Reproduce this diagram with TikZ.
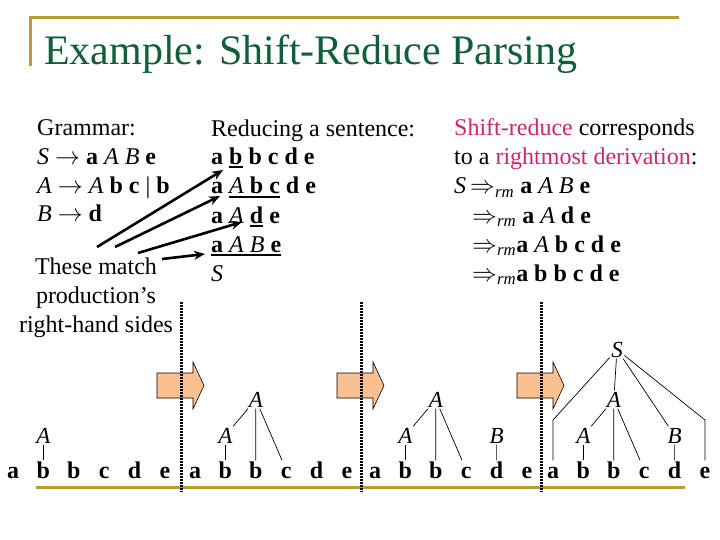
\documentclass[tikz,border=0pt]{standalone}
\usepackage{amsmath}
\usepackage{fontspec}
\setmainfont{Liberation Serif}
\usepackage{xcolor}
\usepackage{tikz}
\usetikzlibrary{arrows.meta, calc}

\definecolor{titlegreen}{RGB}{16,94,58}
\definecolor{rulegold}{RGB}{190,155,50}
\definecolor{hilite}{RGB}{204,40,110}
\definecolor{peach}{RGB}{250,192,143}

% thick bar under a handle
\newcommand{\handle}[1]{\setbox0\hbox{#1}\rlap{\rule[-3.5pt]{\wd0}{2pt}}\box0\relax}
\newcommand{\nt}[1]{\textit{#1}}
\newcommand{\tm}[1]{\textbf{#1}}

\begin{document}
\begin{tikzpicture}[x=1pt, y=-1pt,
  txt/.style={anchor=base west, inner sep=0pt, font=\fontsize{24}{29}\selectfont},
  leaf/.style={anchor=base, inner sep=1.5pt, text height=16pt, text depth=0pt, font=\fontsize{24}{29}\selectfont\bfseries},
  nterm/.style={anchor=base, inner sep=1.5pt, text height=15pt, text depth=0pt, font=\fontsize{23}{27}\selectfont\itshape},
  edge/.style={line width=0.7pt},
  hint/.style={-{Stealth[length=11pt, width=9pt]}, line width=2.6pt},
  sep/.style={line width=3pt, dash pattern=on 2pt off 1pt},
  shiftarrow/.style={draw=black, line width=0.6pt, fill=peach}]

\useasboundingbox (0,0) rectangle (720,540);

% Title and gold rule
\draw[rulegold, line width=3pt] (30,66) -- (30,18) -- (679,18);
\node[anchor=base west, inner sep=0pt, font=\fontsize{42}{50}\selectfont, text=titlegreen] (title) at (44,65) {Example: Shift-Reduce Parsing};

% Grammar column
\node[txt] (gram)  at (37,136) {Grammar:};
\node[txt] (ruleS) at (37,165) {\nt{S} $\rightarrow$ \tm{a} \nt{A} \nt{B} \tm{e}};
\node[txt] (ruleA) at (37,194) {\nt{A} $\rightarrow$ \nt{A} \tm{b c} | \tm{b}};
\node[txt] (ruleB) at (37,222) {\nt{B} $\rightarrow$ \tm{d}};
\node[anchor=north, align=center, inner sep=0pt, font=\fontsize{24}{29}\selectfont] (these) at (96,257.5) {These match\\production's\\right-hand sides};

% Reduction column
\node[txt] (redtitle) at (211,137) {Reducing a sentence:};
\node[txt] (red1) at (211,165) {\tm{a \handle{b} b c d e}};
\node[txt] (red2) at (211,194) {\tm{a} \handle{\nt{A} \tm{b c}} \tm{d e}};
\node[txt] (red3) at (211,223) {\tm{a} \nt{A} \handle{\tm{d}} \tm{e}};
\node[txt] (red4) at (211,252) {\handle{\tm{a} \nt{A} \nt{B} \tm{e}}};
\node[txt] (red5) at (211,281) {\nt{S}};

% Handles pointed at from "These match"
\coordinate (h1) at ($(red1.base west)+(12,5)$);
\coordinate (h2) at ($(red2.base west)+(9,2)$);
\coordinate (h3) at ($(red3.base west)+(31,-1)$);
\coordinate (h4) at ($(red4.base west)+(-6,2)$);
\draw[hint] ($(these.north)+(1,-10.5)$) -- (h1);
\draw[hint] ($(these.north)+(19,-10.5)$) -- (h2);
\draw[hint] ($(these.north)+(42,-4.5)$) -- (h3);
\draw[hint] ($(these.north)+(66,1.5)$) -- (h4);

% Rightmost derivation column
\node[txt] (sr1)  at (454,136) {\textcolor{hilite}{Shift-reduce} corresponds};
\node[txt] (sr2)  at (454,165) {to a \textcolor{hilite}{rightmost derivation}:};
\node[txt] (der1) at (454,194) {\nt{S}\,$\Rightarrow_{\textit{rm}}$ \tm{a} \nt{A} \nt{B} \tm{e}};
\node[txt] (der2) at (472,223) {$\Rightarrow_{\textit{rm}}$ \tm{a} \nt{A} \tm{d e}};
\node[txt] (der3) at (472,252) {$\Rightarrow_{\textit{rm}}$\tm{a} \nt{A} \tm{b c d e}};
\node[txt] (der4) at (472,281) {$\Rightarrow_{\textit{rm}}$\tm{a b b c d e}};

% Shift arrows between the stages
\foreach \dx in {0,180,360}
  \draw[shiftarrow, shift={(\dx,0)}] (157,373) -- (193,373) -- (193,362) -- (204,385.5) -- (193,409) -- (193,398) -- (157,398) -- cycle;

% Input string, four times
\draw[rulegold, line width=3pt] (36,487) -- (685,487);
\foreach \s/\x in {1/13,2/195,3/375,4/553}
  \foreach \c [count=\i] in {a,b,b,c,d,e}
    \node[leaf] (l\s-\i) at ({\x+30.4*(\i-1)},478) {\c};

% Stage 1
\node[nterm] (A1) at (43.4,443) {A};
\draw[edge] (A1) -- (l1-2);

% Stage 2
\node[nterm] (A2)  at (225.4,443) {A};
\node[nterm] (A2t) at (255.8,407) {A};
\draw[edge] (A2) -- (l2-2);
\draw[edge] (A2t) -- (A2);
\draw[edge] (A2t) -- (l2-3);
\draw[edge] (A2t) -- (l2-4);

% Stage 3
\node[nterm] (A3)  at (405.4,443) {A};
\node[nterm] (A3t) at (435.8,407) {A};
\node[nterm] (B3)  at (496.6,443) {B};
\draw[edge] (A3) -- (l3-2);
\draw[edge] (A3t) -- (A3);
\draw[edge] (A3t) -- (l3-3);
\draw[edge] (A3t) -- (l3-4);
\draw[edge] (B3) -- (l3-5);

% Stage 4
\node[nterm] (S4)  at (617,357) {S};
\node[nterm] (A4t) at (613.8,407) {A};
\node[nterm] (A4)  at (583.4,443) {A};
\node[nterm] (B4)  at (674.6,443) {B};
\coordinate (ka) at (553,420);
\coordinate (ke) at (705,420);
\draw[edge] (A4) -- (l4-2);
\draw[edge] (A4t) -- (A4);
\draw[edge] (A4t) -- (l4-3);
\draw[edge] (A4t) -- (l4-4);
\draw[edge] (B4) -- (l4-5);
\draw[edge] (S4) -- (A4t);
\draw[edge] (S4) -- (B4);
\draw[edge] (S4) -- (ka) -- (l4-1);
\draw[edge] (S4) -- (ke) -- (l4-6);

% Stage separators
\foreach \x in {181,361,541}
  \draw[sep] (\x,302) -- (\x,492);

\end{tikzpicture}
\end{document}
